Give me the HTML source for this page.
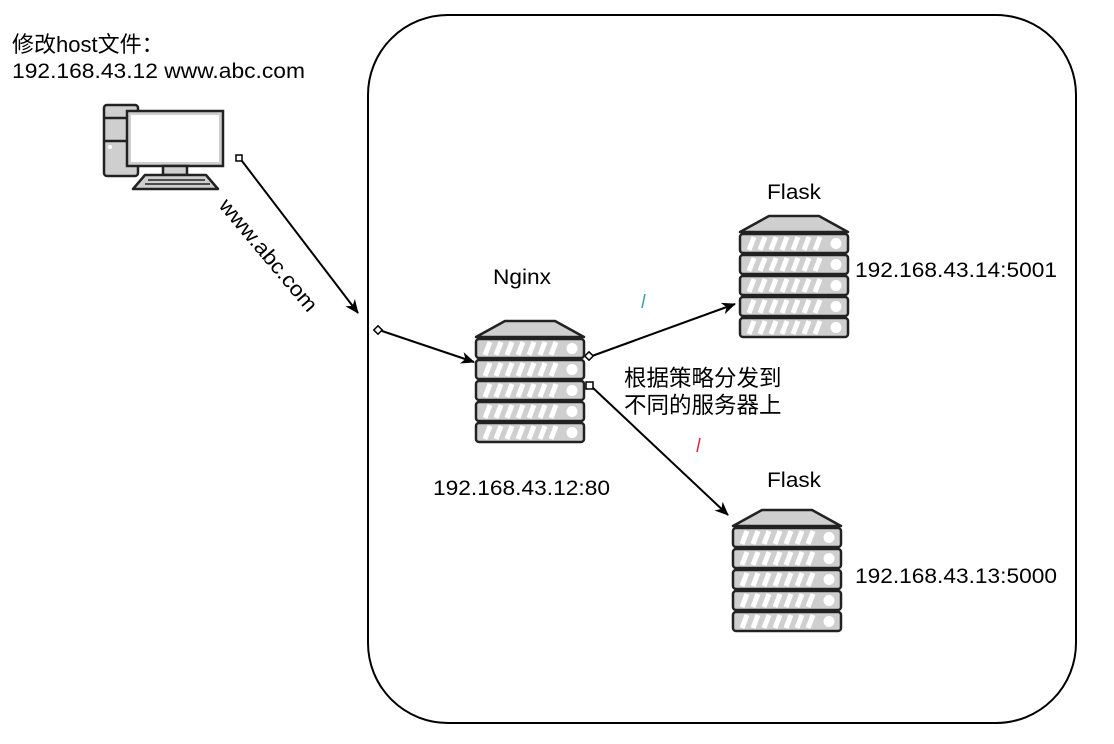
<!DOCTYPE html>
<html><head><meta charset="utf-8"><style>
html,body{margin:0;padding:0;background:#fff;}
svg text{font-family:"Liberation Sans","Noto Sans CJK SC",sans-serif;fill:#000;}
</style></head><body>
<svg width="1114" height="739" viewBox="0 0 1114 739" xmlns="http://www.w3.org/2000/svg">
<defs>
<g id="row">
<rect x="0" y="0" width="108" height="19" rx="3" fill="#cfcfcf" stroke="#222" stroke-width="2.5"/>
<g stroke="#fff" stroke-width="5">
<line x1="9" y1="16" x2="14" y2="3"/><line x1="20" y1="16" x2="25" y2="3"/><line x1="31" y1="16" x2="36" y2="3"/><line x1="42" y1="16" x2="47" y2="3"/><line x1="53" y1="16" x2="58" y2="3"/><line x1="64" y1="16" x2="69" y2="3"/><line x1="75" y1="16" x2="80" y2="3"/>
</g>
<circle cx="96" cy="9.5" r="5.5" fill="#fff"/>
</g>
<g id="server">
<polygon points="29,0 79,0 108,16 0,16" fill="#cfcfcf" stroke="#222" stroke-width="2.5" stroke-linejoin="round"/>
<use href="#row" y="18"/><use href="#row" y="39"/><use href="#row" y="60"/><use href="#row" y="81"/><use href="#row" y="102"/>
</g>
<marker id="ar" markerWidth="14" markerHeight="12" refX="13" refY="6" orient="auto" markerUnits="userSpaceOnUse"><path d="M0,0 L14,6 L0,12 L4,6z" fill="#000"/></marker>
</defs>
<rect x="368" y="15" width="708" height="708" rx="80" fill="none" stroke="#000" stroke-width="2"/>

<text x="12" y="52" font-size="22">修改host文件：</text>
<text x="12" y="78" font-size="21" textLength="293" lengthAdjust="spacingAndGlyphs">192.168.43.12 www.abc.com</text>

<!-- computer -->
<rect x="104" y="105" width="34" height="71" rx="3" fill="#cfcfcf" stroke="#222" stroke-width="2.5"/>
<line x1="104" y1="118" x2="138" y2="118" stroke="#222" stroke-width="2.5"/>
<line x1="104" y1="141" x2="138" y2="141" stroke="#222" stroke-width="2.5"/>
<circle cx="110" cy="147" r="2" fill="#fff"/>
<rect x="127" y="111" width="96" height="55" fill="#cfcfcf" stroke="#222" stroke-width="2.5"/>
<rect x="131" y="115" width="88" height="47" fill="#fff"/>
<rect x="163" y="166" width="24" height="9" fill="#cfcfcf" stroke="#222" stroke-width="2.5"/>
<polygon points="145,175 206,175 218,189 133,189" fill="#cfcfcf" stroke="#222" stroke-width="2.5" stroke-linejoin="round"/>
<line x1="148" y1="180" x2="205" y2="180" stroke="#222" stroke-width="1.5"/>
<line x1="145" y1="184" x2="210" y2="184" stroke="#222" stroke-width="1.5"/>

<!-- connectors -->
<line x1="242" y1="161" x2="358" y2="313" stroke="#000" stroke-width="2" marker-end="url(#ar)"/>
<rect x="236" y="155" width="6" height="6" fill="#fff" stroke="#000" stroke-width="1.5"/>
<text font-size="21" transform="translate(218,206) rotate(50)" textLength="140" lengthAdjust="spacingAndGlyphs">www.abc.com</text>

<line x1="382" y1="331" x2="474" y2="362" stroke="#000" stroke-width="2" marker-end="url(#ar)"/>
<rect x="375" y="327" width="6" height="6" fill="#fff" stroke="#000" stroke-width="1.5" transform="rotate(45 378 330)"/>

<line x1="592" y1="356" x2="735" y2="304" stroke="#000" stroke-width="2" marker-end="url(#ar)"/>
<rect x="586" y="353" width="6" height="6" fill="#fff" stroke="#000" stroke-width="1.5" transform="rotate(45 589 356)"/>
<line x1="592" y1="387" x2="728" y2="515" stroke="#000" stroke-width="2" marker-end="url(#ar)"/>
<rect x="586" y="382" width="7" height="7" fill="#fff" stroke="#000" stroke-width="1.5"/>

<line x1="642" y1="308" x2="645" y2="294" stroke="#3a9bb0" stroke-width="1.5"/>
<line x1="697" y1="452" x2="700" y2="438" stroke="#e0203a" stroke-width="1.5"/>

<!-- servers -->
<use href="#server" x="476" y="321"/>
<use href="#server" x="740" y="216"/>
<use href="#server" x="733" y="510"/>

<text x="493" y="284" font-size="21" textLength="58" lengthAdjust="spacingAndGlyphs">Nginx</text>
<text x="433" y="495" font-size="21" textLength="177" lengthAdjust="spacingAndGlyphs">192.168.43.12:80</text>
<text x="767" y="199" font-size="21" textLength="54" lengthAdjust="spacingAndGlyphs">Flask</text>
<text x="855" y="277" font-size="21" textLength="202" lengthAdjust="spacingAndGlyphs">192.168.43.14:5001</text>
<text x="767" y="487" font-size="21" textLength="54" lengthAdjust="spacingAndGlyphs">Flask</text>
<text x="855" y="583" font-size="21" textLength="202" lengthAdjust="spacingAndGlyphs">192.168.43.13:5000</text>
<text x="624" y="386" font-size="22.5">根据策略分发到</text>
<text x="624" y="413" font-size="22.5">不同的服务器上</text>
</svg>
</body></html>
